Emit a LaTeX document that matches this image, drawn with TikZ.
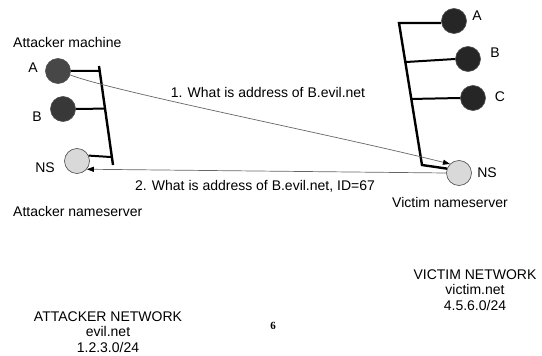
\documentclass[tikz,border=0pt]{standalone}
\usepackage{fontspec}
\setmainfont{Liberation Sans}
\newfontfamily\slidefont{Liberation Serif}
\usetikzlibrary{arrows.meta,calc}

\begin{document}
\begin{tikzpicture}[x=1pt,y=-1pt,
  host/.style={circle,draw=black!70,line width=0.6pt,minimum size=25pt,inner sep=0pt},
  darkhost/.style={host,fill=black!78},
  nshost/.style={host,fill=black!15},
  lbl/.style={font=\fontsize{14}{16}\selectfont,inner sep=0pt},
  bus/.style={line width=2.4pt},
  stub/.style={line width=2pt},
  query/.style={black!60,line width=0.7pt,-{Triangle[length=7pt,width=5pt,black]}}]
  \useasboundingbox (0,0) rectangle (542,356);

  \node[lbl,anchor=west] (atkmach) at (13,42) {Attacker machine};
  \node[darkhost,fill=black!72] (atkA) at (58,71) {};
  \node[darkhost] (atkB) at (63,109) {};
  \node[nshost] (atkNS) at (77,161) {};
  \node[lbl] (atkAl) at (33,68) {A};
  \node[lbl] (atkBl) at (37,117) {B};
  \node[lbl] (atkNSl) at (45,168) {NS};
  \node[lbl,anchor=west] (atkname) at (13,211) {Attacker nameserver};
  \coordinate (atkTop) at (99,66);
  \coordinate (atkBot) at (113,165);
  \draw[bus] (atkTop) -- (atkBot);
  \draw[stub] (atkA.east) -- ($(atkTop)!0.05!(atkBot)$);
  \draw[stub] (atkB.east) -- ($(atkTop)!0.43!(atkBot)$);
  \draw[stub] (atkNS.25) -- ($(atkTop)!0.92!(atkBot)$);

  \node[darkhost,fill=black!85] (vicA) at (454,21) {};
  \node[darkhost,fill=black!85] (vicB) at (468,59) {};
  \node[darkhost,fill=black!85] (vicC) at (473,98) {};
  \node[nshost] (vicNS) at (459,173) {};
  \node[lbl] (vicAl) at (477,16) {A};
  \node[lbl] (vicBl) at (495,53) {B};
  \node[lbl] (vicCl) at (500,97) {C};
  \node[lbl] (vicNSl) at (487,173) {NS};
  \node[lbl] (vicname) at (450,202) {Victim nameserver};
  \coordinate (vicTop) at (399,23);
  \coordinate (vicBot) at (422,165);
  \draw[bus] (vicTop -| vicA.west) -- (vicTop) -- (vicBot) -- (vicNS.160);
  \draw[stub] ($(vicTop)!0.275!(vicBot)$) -- (vicB.west);
  \draw[stub] ($(vicTop)!0.535!(vicBot)$) -- (vicC.west);

  \draw[query] (atkA.-18) .. controls (115,92) and (330,134) .. (vicNS.135);
  \node[lbl] (q1) at (268,92) {1. What is address of B.evil.net};
  \draw[query] (vicNS.west) -- (atkNS.-40);
  \node[lbl] (q2) at (255,186) {2. What is address of B.evil.net, ID=67};

  \node[lbl,align=center,font=\fontsize{14}{15.5}\selectfont] (atknet) at (108,332)
    {ATTACKER NETWORK\\evil.net\\1.2.3.0/24};
  \node[lbl,align=center,font=\fontsize{14}{15.5}\selectfont] (vicnet) at (475,290)
    {VICTIM NETWORK\\victim.net\\4.5.6.0/24};
  \node[inner sep=0pt,font=\slidefont\bfseries\fontsize{11}{12}\selectfont] (slideno) at (273,326) {6};
\end{tikzpicture}
\end{document}
